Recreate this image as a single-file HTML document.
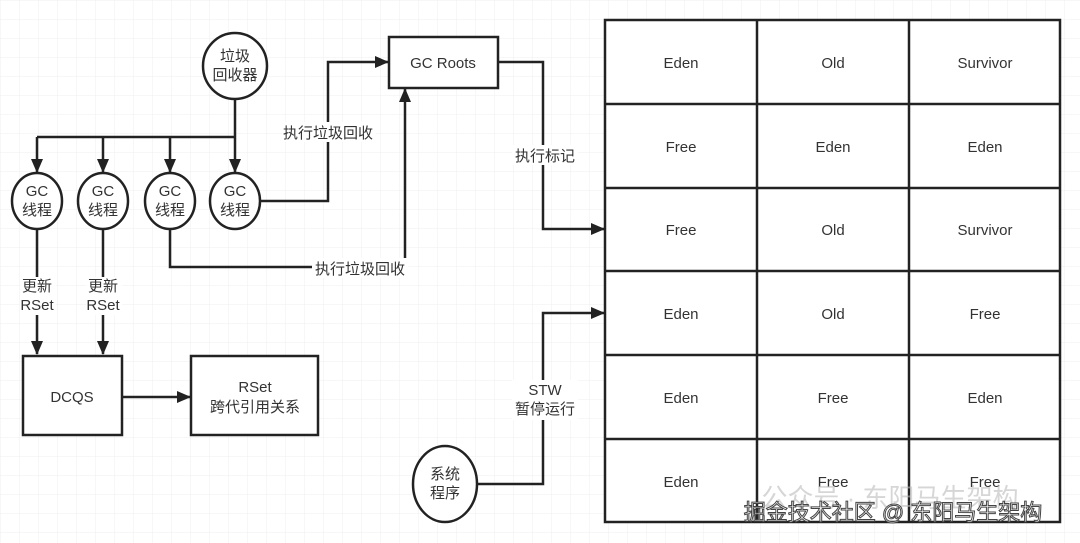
<!DOCTYPE html>
<html><head><meta charset="utf-8"><style>
html,body{margin:0;padding:0;background:#fff}
svg{display:block}
text{font-family:"Liberation Sans","Noto Sans CJK SC",sans-serif;font-size:15px;fill:#333;text-anchor:middle}
</style></head><body>
<svg width="1080" height="543" viewBox="0 0 1080 543" xmlns="http://www.w3.org/2000/svg">
<defs>
<pattern id="g" width="19" height="19" patternUnits="userSpaceOnUse" x="1" y="1">
<path d="M19 0V19H0" fill="none" stroke="#efefef" stroke-width="1"/>
</pattern>
<marker id="a" markerWidth="14" markerHeight="12" refX="13" refY="6" orient="auto" markerUnits="userSpaceOnUse" viewBox="0 0 14 12">
<path d="M0 0L14 6L0 12z" fill="#222"/>
</marker>
</defs>
<rect width="1080" height="543" fill="url(#g)"/>
<g stroke="#222" stroke-width="2.5" fill="none">
<rect x="605" y="20" width="455" height="502" fill="#fff"/>
<path d="M757 20V522M909 20V522M605 104H1060M605 188H1060M605 271H1060M605 355H1060M605 439H1060"/>
<ellipse cx="235" cy="66" rx="32" ry="33" fill="#fff"/>
<path d="M235 99V137M37 137H235"/>
<path d="M37 137V172" marker-end="url(#a)"/>
<path d="M103 137V172" marker-end="url(#a)"/>
<path d="M170 137V172" marker-end="url(#a)"/>
<path d="M235 137V172" marker-end="url(#a)"/>
<ellipse cx="37" cy="201" rx="25" ry="28" fill="#fff"/>
<ellipse cx="103" cy="201" rx="25" ry="28" fill="#fff"/>
<ellipse cx="170" cy="201" rx="25" ry="28" fill="#fff"/>
<ellipse cx="235" cy="201" rx="25" ry="28" fill="#fff"/>
<rect x="389" y="37" width="109" height="51" fill="#fff"/>
<path d="M260 201H328V62H388" marker-end="url(#a)"/>
<path d="M170 229V267H405V89" marker-end="url(#a)"/>
<path d="M498 62H543V229H604" marker-end="url(#a)"/>
<path d="M37 229V354" marker-end="url(#a)"/>
<path d="M103 229V354" marker-end="url(#a)"/>
<rect x="23" y="356" width="99" height="79" fill="#fff"/>
<rect x="191" y="356" width="127" height="79" fill="#fff"/>
<path d="M122 397H190" marker-end="url(#a)"/>
<ellipse cx="445" cy="484" rx="32" ry="38" fill="#fff"/>
<path d="M477 484H543V313H604" marker-end="url(#a)"/>
</g>
<g fill="#fff">
<rect x="282" y="122" width="94" height="20"/>
<rect x="312" y="258" width="96" height="20"/>
<rect x="512" y="145" width="66" height="20"/>
<rect x="20" y="277" width="36" height="38"/>
<rect x="86" y="277" width="36" height="38"/>
<rect x="512" y="380" width="66" height="40"/>
</g>
<text x="235" y="61">垃圾</text><text x="235" y="80">回收器</text>
<text x="443" y="68">GC Roots</text>
<text x="37" y="196">GC</text><text x="37" y="215">线程</text>
<text x="103" y="196">GC</text><text x="103" y="215">线程</text>
<text x="170" y="196">GC</text><text x="170" y="215">线程</text>
<text x="235" y="196">GC</text><text x="235" y="215">线程</text>
<text x="328" y="138">执行垃圾回收</text>
<text x="360" y="274">执行垃圾回收</text>
<text x="545" y="161">执行标记</text>
<text x="37" y="291">更新</text><text x="37" y="310">RSet</text>
<text x="103" y="291">更新</text><text x="103" y="310">RSet</text>
<text x="72" y="402">DCQS</text>
<text x="255" y="392">RSet</text><text x="255" y="412">跨代引用关系</text>
<text x="545" y="395">STW</text><text x="545" y="414">暂停运行</text>
<text x="445" y="479">系统</text><text x="445" y="498">程序</text>
<g>
<text x="681" y="68">Eden</text><text x="833" y="68">Old</text><text x="985" y="68">Survivor</text>
<text x="681" y="152">Free</text><text x="833" y="152">Eden</text><text x="985" y="152">Eden</text>
<text x="681" y="235">Free</text><text x="833" y="235">Old</text><text x="985" y="235">Survivor</text>
<text x="681" y="319">Eden</text><text x="833" y="319">Old</text><text x="985" y="319">Free</text>
<text x="681" y="403">Eden</text><text x="833" y="403">Free</text><text x="985" y="403">Eden</text>
<text x="681" y="487">Eden</text><text x="833" y="487">Free</text><text x="985" y="487">Free</text>
</g>
<text x="890" y="507" style="font-size:26px;fill:#bbb;opacity:.6">公众号 · 东阳马生架构</text>
<text x="893" y="520" style="font-size:22px;fill:#fff;stroke:#444;stroke-width:1">掘金技术社区 @ 东阳马生架构</text>
</svg>
</body></html>
